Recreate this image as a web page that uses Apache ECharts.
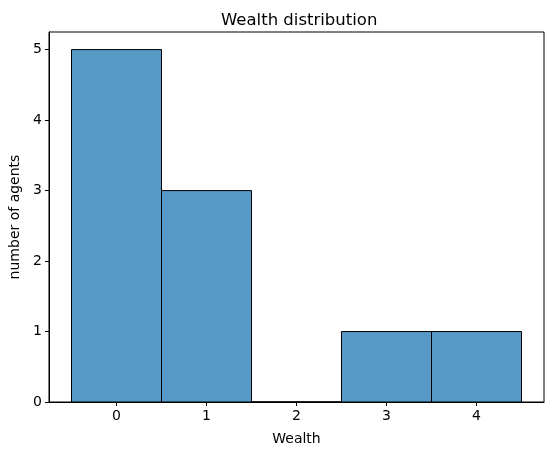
<!DOCTYPE html>
<html><head><meta charset="utf-8">
<script src="https://cdn.jsdelivr.net/npm/echarts@6/dist/echarts.min.js"></script>
<style>html,body{margin:0;padding:0;background:#fff}#c{width:554px;height:455px}</style>
</head><body><div id="c"></div>
<script>
const wealthBins = [0, 1, 2, 3, 4];
const agentCounts = [5, 3, 0, 1, 1];
const xTicks = [0, 1, 2, 3, 4];
const yTicks = [0, 1, 2, 3, 4, 5];

const chart = echarts.init(document.getElementById('c'));
const font = 'DejaVu Sans';
chart.setOption({
  animation: false,
  title: { text: 'Wealth distribution', left: 216, top: 7,
    textStyle: { fontFamily: font, fontSize: 16.5, fontWeight: 'normal', color: '#000' } },
  grid: { left: 49, right: 10, top: 32, bottom: 53, containLabel: false, outerBoundsMode: 'none',
    show: true, borderColor: '#000', borderWidth: 1, backgroundColor: 'transparent' },
  xAxis: {
    type: 'value', min: -0.75, max: 4.75,
    name: 'Wealth', nameLocation: 'middle', nameGap: 30,
    nameTextStyle: { fontFamily: font, fontSize: 14, color: '#000' },
    axisLine: { show: true, onZero: false, lineStyle: { color: '#000', width: 1 } },
    axisTick: { show: true, inside: false, length: 4, customValues: xTicks, lineStyle: { color: '#000' } },
    axisLabel: { customValues: xTicks, fontFamily: font, fontSize: 14, color: '#000', margin: 7 },
    splitLine: { show: false }
  },
  yAxis: {
    type: 'value', min: 0, max: 5.25,
    name: 'number of agents', nameLocation: 'middle', nameGap: 27,
    nameTextStyle: { fontFamily: font, fontSize: 14, color: '#000' },
    axisLine: { show: true, onZero: false, lineStyle: { color: '#000', width: 1 } },
    axisTick: { show: true, inside: false, length: 4, customValues: yTicks, lineStyle: { color: '#000' } },
    axisLabel: { customValues: yTicks, fontFamily: font, fontSize: 14, color: '#000', margin: 7 },
    splitLine: { show: false }
  },
  series: [{
    type: 'custom',
    data: wealthBins.map((b, i) => [b, agentCounts[i]]),
    renderItem: function (params, api) {
      const c = api.value(0), v = api.value(1);
      const p0 = api.coord([c - 0.5, v]);
      const p1 = api.coord([c + 0.5, 0]);
      return { type: 'rect', shape: { x: p0[0], y: p0[1], width: p1[0] - p0[0], height: p1[1] - p0[1] },
        style: { fill: '#5799c7', stroke: '#000', lineWidth: 1 } };
    }
  }]
});
</script></body></html>
